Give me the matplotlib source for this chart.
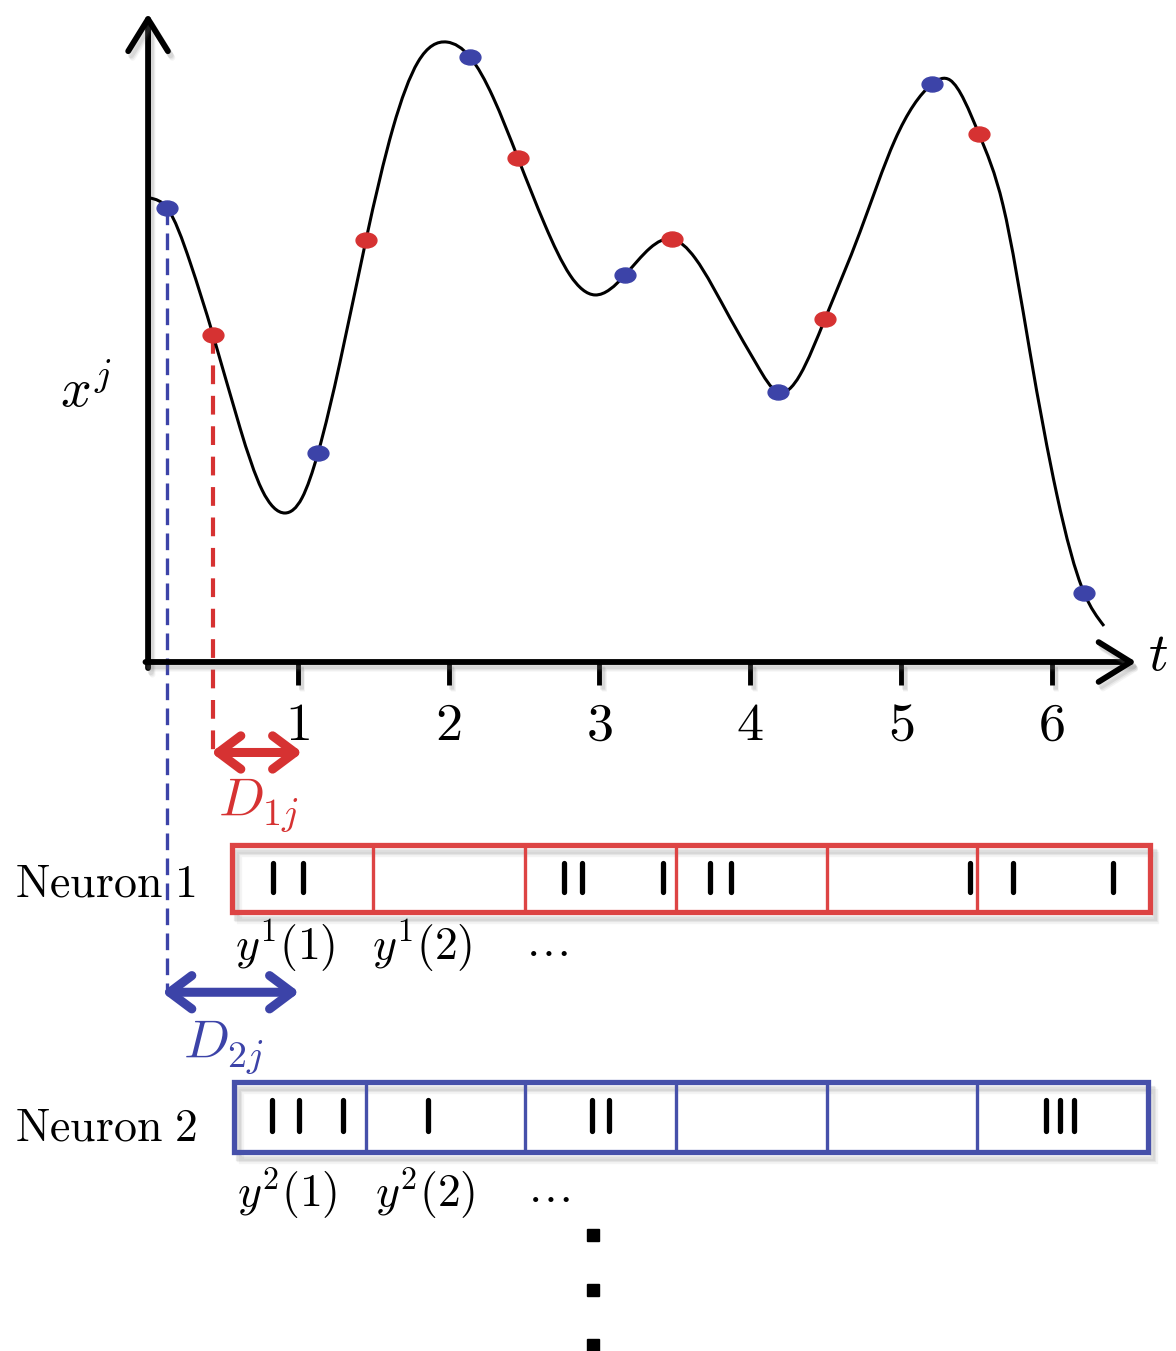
import numpy as np
import matplotlib
matplotlib.use('Agg')
import matplotlib.pyplot as plt
from matplotlib.path import Path
from matplotlib.patches import PathPatch, Rectangle
import matplotlib.patheffects as pe

plt.rcParams['mathtext.fontset'] = 'cm'
plt.rcParams['font.family'] = ['DejaVu Serif']

# ---------------- data ----------------
# smooth signal x^j(t): knots along the curve
curve_t = [0.02, 0.133, 0.285, 0.438, 0.617, 0.763, 0.915, 1.028, 1.134, 1.280,
           1.452, 1.631, 1.797, 1.989, 2.142, 2.294, 2.460, 2.639, 2.805, 2.971,
           3.170, 3.336, 3.481, 3.634, 3.866, 4.045, 4.184, 4.330, 4.496, 4.728,
           4.960, 5.206, 5.325, 5.517, 5.676, 5.855, 6.034, 6.214, 6.346]
curve_x = [3.077, 3.011, 2.653, 2.168, 1.552, 1.141, 0.988, 1.088, 1.386, 1.989,
           2.798, 3.541, 3.979, 4.111, 4.012, 3.747, 3.342, 2.898, 2.566, 2.434,
           2.566, 2.745, 2.805, 2.679, 2.281, 1.970, 1.790, 1.903, 2.275, 2.851,
           3.462, 3.833, 3.859, 3.501, 3.031, 2.056, 1.107, 0.458, 0.239]

# sampled points (neuron 2 = blue, neuron 1 = red)
blue_t = [0.133, 1.134, 2.142, 3.170, 4.184, 5.206, 6.214]
blue_x = [3.011, 1.386, 4.012, 2.566, 1.790, 3.833, 0.458]
red_t = [0.438, 1.452, 2.460, 3.481, 4.496, 5.517]
red_x = [2.168, 2.798, 3.342, 2.805, 2.275, 3.501]

tick_values = [1, 2, 3, 4, 5, 6]
tick_labels = ['1', '2', '3', '4', '5', '6']

# spike-train boxes
n1_bounds = [0.564, 1.499, 2.507, 3.508, 4.509, 5.504, 6.650]
n1_spikes = [0.834, 1.034, 2.766, 2.885, 3.421, 3.733, 3.873, 5.460, 5.740, 6.405]
n2_bounds = [0.577, 1.452, 2.507, 3.508, 4.509, 5.504, 6.637]
n2_spikes = [0.829, 1.008, 1.300, 1.863, 2.951, 3.064, 5.962, 6.055, 6.148]

D1_range = [0.425, 1.03]
D2_range = [0.10, 1.01]

# ---------------- figure ----------------
W, H = 1176, 1351
S = 150.8  # pixels per unit
fig = plt.figure(figsize=(W / 100, H / 100), dpi=100)
ax = fig.add_axes([0, 0, 1, 1])
ax.set_xlim(-147 / S, (W - 147) / S)
ax.set_ylim((662 - H) / S, 662 / S)
ax.axis('off')

RED = '#d63232'
RED_BOX = '#dd4444'
BLUE = '#3c43a8'
BLUE_BOX = '#4650aa'


def soft_shadow(dx=2, dy=-3):
    effs = []
    for k, a in [(1.6, 0.08), (1.3, 0.10), (1.0, 0.14)]:
        effs.append(pe.SimpleLineShadow(offset=(dx * k, dy * k), shadow_color='#777777',
                                        alpha=a))
    effs.append(pe.Normal())
    return effs


# axes arrows
for xy, xyt in [((0.007, 4.30), (0.007, -0.04)), ((6.56, 0), (-0.01, 0))]:
    ax.annotate('', xy=xy, xytext=xyt,
                arrowprops=dict(arrowstyle='->,head_length=1.05,head_width=0.65', lw=4.2,
                                color='k', shrinkA=0, shrinkB=0, mutation_scale=22,
                                capstyle='round', joinstyle='round',
                                path_effects=soft_shadow()))
for tv, tl in zip(tick_values, tick_labels):
    ax.plot([tv, tv], [0, -0.15], color='k', lw=3.5, solid_capstyle='butt',
            path_effects=soft_shadow())
    ax.text(tv, -0.517, '$' + tl + '$', fontsize=39, ha='center', va='baseline')

ax.text(-0.58, 1.69, r'$x^j$', fontsize=39, ha='left', va='baseline')
ax.text(6.64, -0.053, r'$t$', fontsize=39, ha='left', va='baseline')

# smooth curve: natural cubic spline through knots, drawn as Bezier path
T = np.asarray(curve_t)
Y = np.asarray(curve_x)
n = len(T)
h = np.diff(T)
A = np.zeros((n, n))
rhs = np.zeros(n)
A[0, 0] = A[-1, -1] = 1.0
for i in range(1, n - 1):
    A[i, i - 1] = h[i - 1]
    A[i, i] = 2 * (h[i - 1] + h[i])
    A[i, i + 1] = h[i]
    rhs[i] = 6 * ((Y[i + 1] - Y[i]) / h[i] - (Y[i] - Y[i - 1]) / h[i - 1])
M = np.linalg.solve(A, rhs)
d = np.empty(n)
d[:-1] = (Y[1:] - Y[:-1]) / h - h * (2 * M[:-1] + M[1:]) / 6
d[-1] = (Y[-1] - Y[-2]) / h[-1] + h[-1] * (M[-2] + 2 * M[-1]) / 6
verts = [(T[0], Y[0])]
codes = [Path.MOVETO]
for i in range(n - 1):
    verts += [(T[i] + h[i] / 3, Y[i] + d[i] * h[i] / 3),
              (T[i + 1] - h[i] / 3, Y[i + 1] - d[i + 1] * h[i] / 3),
              (T[i + 1], Y[i + 1])]
    codes += [Path.CURVE4] * 3
ax.add_patch(PathPatch(Path(verts, codes), fill=False, lw=2.2, edgecolor='k',
                       zorder=3))

# dashed guide lines
ax.plot([blue_t[0], blue_t[0]], [blue_x[0], -2.19], color=BLUE, lw=2.4,
        dashes=(5, 2.5), zorder=2)
ax.plot([red_t[0], red_t[0]], [red_x[0], -0.60], color=RED, lw=3.0,
        dashes=(4.5, 2.8), zorder=2)

# ellipse marker
circ = Path.unit_circle()
ell = Path(circ.vertices * np.array([1.0, 0.72]), circ.codes)
ax.plot(blue_t, blue_x, ls='none', marker=ell, ms=15, color=BLUE, zorder=4)
ax.plot(red_t, red_x, ls='none', marker=ell, ms=15, color=RED, zorder=4)

# delay arrows
for rng, yv, col in [(D1_range, -0.60, RED), (D2_range, -2.19, BLUE)]:
    ax.annotate('', xy=(rng[1], yv), xytext=(rng[0], yv),
                arrowprops=dict(arrowstyle='<->,head_length=0.8,head_width=0.6', lw=6.5,
                                color=col, shrinkA=0, shrinkB=0, mutation_scale=20,
                                capstyle='round', joinstyle='round'))
ax.text(0.47, -1.015, r'$D_{1j}$', fontsize=39, color=RED, ha='left', va='baseline')
ax.text(0.24, -2.619, r'$D_{2j}$', fontsize=39, color=BLUE, ha='left', va='baseline')


def spike_box(bounds, spikes, top, bottom, sp_top, sp_bot, color):
    rect = Rectangle((bounds[0], bottom), bounds[-1] - bounds[0], top - bottom,
                     fill=False, edgecolor=color, lw=3.8, zorder=3,
                     path_effects=soft_shadow(3, -4))
    ax.add_patch(rect)
    for b in bounds[1:-1]:
        ax.plot([b, b], [bottom, top], color=color, lw=2.4, zorder=3,
                solid_capstyle='butt')
    for s in spikes:
        ax.plot([s, s], [sp_bot, sp_top], color='k', lw=3.8, zorder=3,
                solid_capstyle='round')


spike_box(n1_bounds, n1_spikes, -1.214, -1.658, -1.330, -1.525, RED_BOX)
spike_box(n2_bounds, n2_spikes, -2.785, -3.249, -2.905, -3.110, BLUE_BOX)

ax.text(-0.875, -1.558, r'$\mathrm{Neuron\ 1}$', fontsize=33, ha='left', va='baseline')
ax.text(-0.875, -3.170, r'$\mathrm{Neuron\ 2}$', fontsize=33, ha='left', va='baseline')

ax.text(0.584, -1.97, r'$y^1(1)$', fontsize=33, ha='left', va='baseline')
ax.text(1.492, -1.97, r'$y^1(2)$', fontsize=33, ha='left', va='baseline')
ax.text(2.507, -1.95, r'$\ldots$', fontsize=33, ha='left', va='baseline')
ax.text(0.597, -3.614, r'$y^2(1)$', fontsize=33, ha='left', va='baseline')
ax.text(1.512, -3.614, r'$y^2(2)$', fontsize=33, ha='left', va='baseline')
ax.text(2.520, -3.58, r'$\ldots$', fontsize=33, ha='left', va='baseline')

# vertical continuation dots
vdots_v = [-3.80, -4.164, -4.529]
ax.plot([2.958] * len(vdots_v), vdots_v, ls='none', marker='s', ms=8.5, color='k')

fig.savefig('out.png', dpi=100)
